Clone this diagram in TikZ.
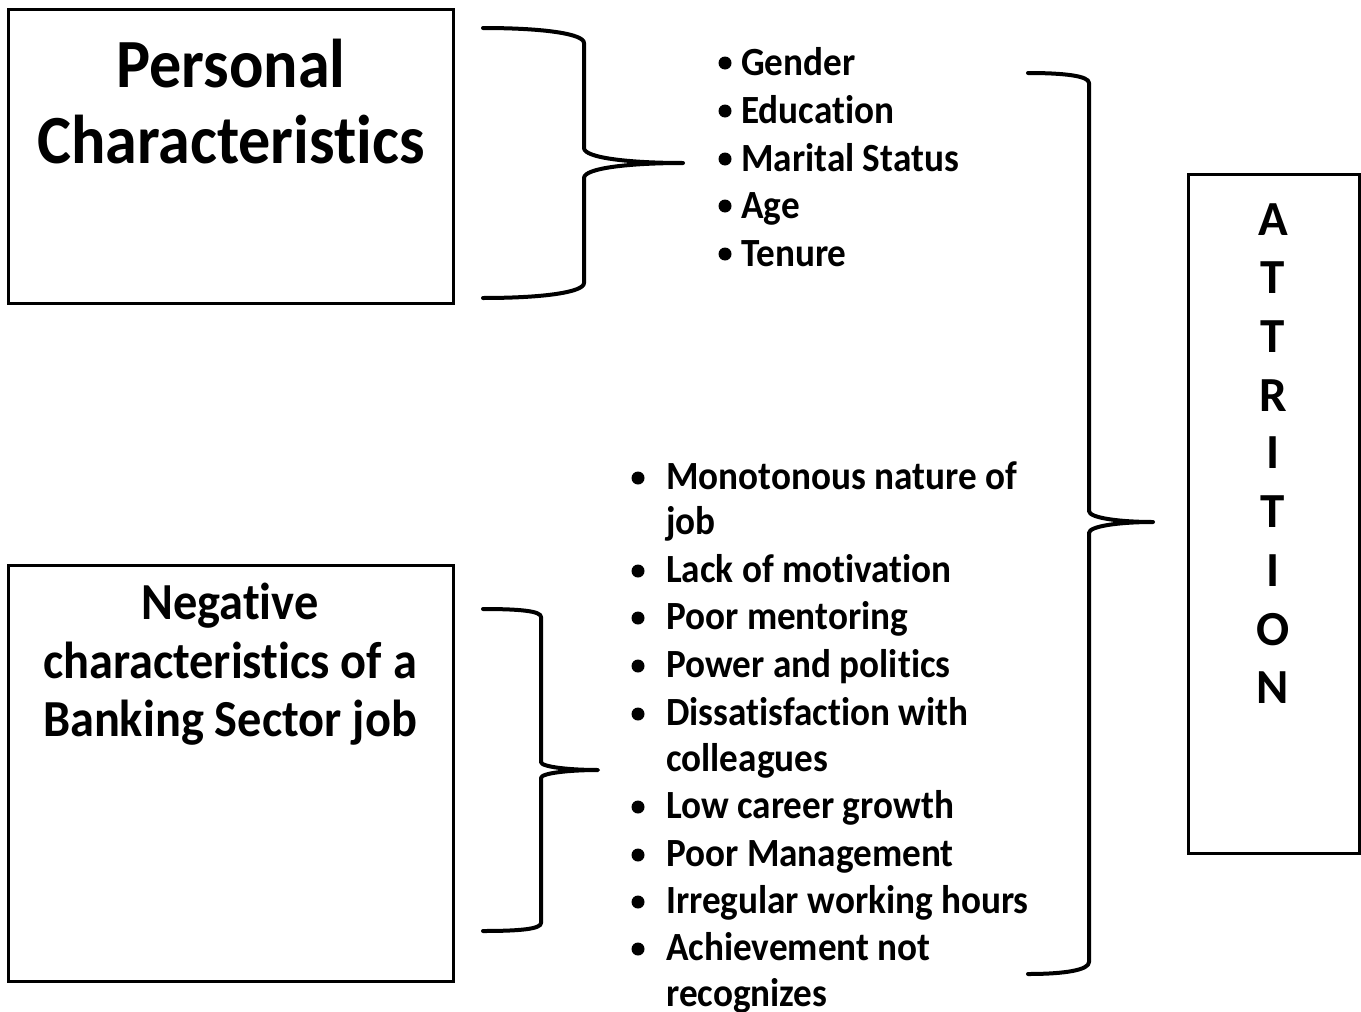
\documentclass[tikz,border=0pt]{standalone}
\usepackage{fontspec}
\setmainfont{Carlito}[Ligatures=NoCommon]
\newfontfamily\narrowcal{Carlito}[FakeStretch=0.93,Ligatures=NoCommon]
\begin{document}
\begin{tikzpicture}[x=1pt,y=-1pt,
  frame/.style={draw=black,line width=3pt,inner sep=0pt},
  brace/.style={draw=black,line width=4pt,line cap=round,line join=round},
  big/.style={font=\narrowcal\bfseries\fontsize{69}{76}\selectfont,inner sep=0pt,anchor=base},
  mid/.style={font=\narrowcal\bfseries\fontsize{52}{58}\selectfont,inner sep=0pt,anchor=base},
  letter/.style={font=\bfseries\fontsize{49}{58}\selectfont,inner sep=0pt,anchor=base},
  item/.style={font=\narrowcal\bfseries\fontsize{40}{48}\selectfont,inner sep=0pt,anchor=base west},
  bul/.style={circle,fill=black,inner sep=0pt,minimum size=13pt}]
\useasboundingbox (0,0) rectangle (1361,1012);

% boxes
\node[frame,minimum width=445pt,minimum height=294pt] (pbox) at (230.5,156) {};
\node[frame,minimum width=445pt,minimum height=416pt] (nbox) at (230.5,773) {};
\node[frame,minimum width=171pt,minimum height=679pt] (abox) at (1273.5,513.5) {};

% box titles
\node[big] (p1) at (231,87) {Personal};
\node[big] (p2) at (231,163) {Characteristics};
\node[mid] (n1) at (230,619) {Negative};
\node[mid] (n2) at (230,678) {characteristics of a};
\node[mid] (n3) at (230,736) {Banking Sector job};

% vertical word
\foreach \ch/\yy [count=\k] in {A/235,T/293,T/352,R/411,I/468,T/527,I/586,O/645,N/703}
  \node[letter] (att\k) at (1273,\yy) {\ch};

% personal characteristics list
\foreach \txt/\yy [count=\k] in {Gender/75,Education/123,Marital Status/171,Age/218,Tenure/266}{
  \node[bul] (pb\k) at (725,\yy-12) {};
  \node[item] (pi\k) at (741,\yy) {\txt};
}

% job characteristics list
\foreach \txt/\yy [count=\k] in {Monotonous nature of/489,Lack of motivation/582,Poor mentoring/629,
    Power and politics/677,Dissatisfaction with/725,Low career growth/818,Poor Management/866,
    Irregular working hours/913,Achievement not/960}{
  \node[bul] (jb\k) at (638,\yy-11) {};
  \node[item] (ji\k) at (666,\yy) {\txt};
}
\node[item] (ji1b) at (666,534) {job};
\node[item] (ji5b) at (666,771) {colleagues};
\node[item] (ji9b) at (666,1006) {recognizes};

% brace joining the personal box to its list
\coordinate (a1) at (483,28);  \coordinate (a2) at (584,43);
\coordinate (a3) at (584,148); \coordinate (atip) at (683,163);
\coordinate (a4) at (584,178); \coordinate (a5) at (584,283);
\coordinate (a6) at (483,298);
\draw[brace] (a1) .. controls (545,28) and (584,34) .. (a2) -- (a3)
  .. controls (584,158) and (630,163) .. (atip)
  .. controls (630,163) and (584,168) .. (a4) -- (a5)
  .. controls (584,292) and (545,298) .. (a6);

% brace joining the job box to its list
\coordinate (b1) at (483,609); \coordinate (b2) at (541,617);
\coordinate (b3) at (541,762); \coordinate (btip) at (598,770);
\coordinate (b4) at (541,778); \coordinate (b5) at (541,923);
\coordinate (b6) at (483,931);
\draw[brace] (b1) .. controls (520,609) and (541,611) .. (b2) -- (b3)
  .. controls (541,767) and (570,770) .. (btip)
  .. controls (570,770) and (541,773) .. (b4) -- (b5)
  .. controls (541,929) and (520,931) .. (b6);

% brace joining both lists to attrition
\coordinate (c1) at (1028,73);  \coordinate (c2) at (1089,83);
\coordinate (c3) at (1089,511); \coordinate (ctip) at (1153,522);
\coordinate (c4) at (1089,533); \coordinate (c5) at (1089,962);
\coordinate (c6) at (1028,974);
\draw[brace] (c1) .. controls (1065,73) and (1089,76) .. (c2) -- (c3)
  .. controls (1089,518) and (1120,522) .. (ctip)
  .. controls (1120,522) and (1089,526) .. (c4) -- (c5)
  .. controls (1089,970) and (1065,974) .. (c6);
\end{tikzpicture}
\end{document}
